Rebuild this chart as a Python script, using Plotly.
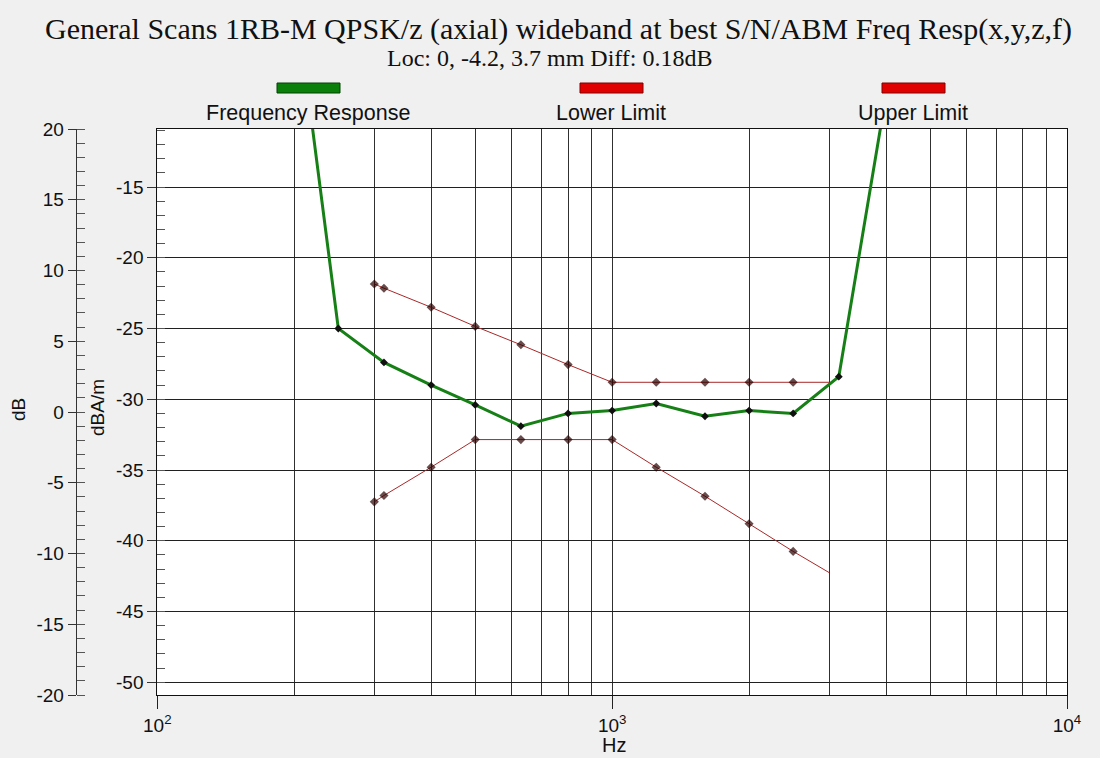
import plotly.graph_objects as go

# ---- data ----
freq_resp_hz = [200, 250, 315, 400, 500, 630, 800, 1000, 1250, 1600, 2000, 2500, 3150, 4000]
freq_resp_db = [-0.8, -25.0, -27.4, -29.0, -30.4, -31.9, -31.0, -30.8, -30.3, -31.2, -30.8, -31.0, -28.4, -8.5]

upper_hz = [300, 315, 400, 500, 630, 800, 1000, 1250, 1600, 2000, 2500, 3000]
upper_db = [-21.85, -22.15, -23.5, -24.85, -26.15, -27.55, -28.8, -28.8, -28.8, -28.8, -28.8, -28.8]

lower_hz = [300, 315, 400, 500, 630, 800, 1000, 1250, 1600, 2000, 2500, 3000]
lower_db = [-37.25, -36.8, -34.8, -32.85, -32.85, -32.85, -32.85, -34.8, -36.85, -38.8, -40.75, -42.25]

x_tick_vals = [100, 1000, 10000]
x_tick_text = ["10<sup>2</sup>", "10<sup>3</sup>", "10<sup>4</sup>"]
y_tick_vals = [-15, -20, -25, -30, -35, -40, -45, -50]
y2_tick_vals = [20, 15, 10, 5, 0, -5, -10, -15, -20]

title_text = "General Scans 1RB-M QPSK/z (axial) wideband at best S/N/ABM Freq Resp(x,y,z,f)"
subtitle_text = "Loc: 0, -4.2, 3.7 mm Diff: 0.18dB"
legend_names = ["Frequency Response", "Lower Limit", "Upper Limit"]

# ---- layout geometry (pixels) ----
W, H = 1100, 758
ML, MR, MT, MB = 10, 33, 129, 63
PW, PH = W - ML - MR, H - MT - MB


def px(x):
    return (x - ML) / PW


def py(y):
    return (H - MB - y) / PH


minor_x = [m * d for d in (100, 1000) for m in range(2, 10)]

SANS = "Arial, Liberation Sans, sans-serif"
SERIF = "Times New Roman, Liberation Serif, serif"
TICK_SIZE = 19

fig = go.Figure()


def limit_marker_sizes(n):
    return [7] * (n - 1) + [0]


for hz, db, name in ((upper_hz, upper_db, legend_names[2]), (lower_hz, lower_db, legend_names[1])):
    fig.add_trace(go.Scatter(
        x=hz, y=db, mode="lines+markers", name=name,
        line=dict(color="#a82828", width=1),
        marker=dict(color="#280000", size=limit_marker_sizes(len(hz)), symbol="diamond",
                    line=dict(width=0)),
    ))
fig.add_trace(go.Scatter(
    x=freq_resp_hz, y=freq_resp_db, mode="lines+markers", name=legend_names[0],
    line=dict(color="#168016", width=3),
    marker=dict(color="#101010", size=6, symbol="diamond", line=dict(width=0)),
))
# invisible trace to activate the dB axis
fig.add_trace(go.Scatter(x=[100], y=[0], yaxis="y2", mode="markers",
                         marker=dict(size=1, opacity=0), showlegend=False, hoverinfo="skip"))

x_dom0 = px(157.3)

fig.update_layout(
    width=W, height=H,
    margin=dict(l=ML, r=MR, t=MT, b=MB, autoexpand=False),
    paper_bgcolor="#f0f0f0",
    plot_bgcolor="#ffffff",
    showlegend=False,
    font=dict(family=SANS, size=18, color="#111111"),
    xaxis=dict(
        type="log", range=[2, 4], domain=[x_dom0, 1],
        tickmode="array", tickvals=x_tick_vals, ticktext=x_tick_text,
        ticks="outside", ticklen=13, tickwidth=1, tickcolor="#222222",
        showgrid=True, gridcolor="#303030", gridwidth=1,
        showline=True, linecolor="#111111", linewidth=1, mirror=True,
        tickfont=dict(family=SANS, size=TICK_SIZE),
        minor=dict(tickmode="array", tickvals=minor_x, showgrid=True,
                   gridcolor="#303030", gridwidth=1, ticks=""),
        zeroline=False,
    ),
    yaxis=dict(
        range=[-50.9, -10.9],
        tickmode="array", tickvals=y_tick_vals, ticktext=[str(v) for v in y_tick_vals],
        ticks="outside", ticklen=9, tickwidth=1, tickcolor="#333333",
        showgrid=True, gridcolor="#202020", gridwidth=1,
        showline=True, linecolor="#111111", linewidth=1, mirror=True,
        tickfont=dict(family=SANS, size=TICK_SIZE),
        minor=dict(tickmode="linear", tick0=0, dtick=1, ticks="inside", ticklen=8,
                   tickcolor="#555555", showgrid=False),
        zeroline=False,
    ),
    yaxis2=dict(
        range=[-20, 20], overlaying="y", anchor="free", position=px(75.7), side="left",
        tickmode="array", tickvals=y2_tick_vals, ticktext=[str(v) for v in y2_tick_vals],
        ticks="outside", ticklen=8, tickwidth=1, tickcolor="#333333",
        showgrid=False, showline=True, linecolor="#333333", linewidth=1,
        tickfont=dict(family=SANS, size=TICK_SIZE),
        minor=dict(tickmode="linear", tick0=0, dtick=1, ticks="inside", ticklen=8,
                   tickcolor="#555555", showgrid=False),
        zeroline=False,
    ),
)

ann = []
ann.append(dict(text=title_text, x=px(558), y=py(29), xref="paper", yref="paper",
                showarrow=False, xanchor="center", yanchor="middle",
                font=dict(family=SERIF, size=30, color="#111111")))
ann.append(dict(text=subtitle_text, x=px(550), y=py(58), xref="paper", yref="paper",
                showarrow=False, xanchor="center", yanchor="middle",
                font=dict(family=SERIF, size=24, color="#111111")))
ann.append(dict(text="dB", x=px(18), y=py(410), xref="paper", yref="paper", textangle=-90,
                showarrow=False, xanchor="center", yanchor="middle",
                font=dict(family=SANS, size=19)))
ann.append(dict(text="dBA/m", x=px(97), y=py(408), xref="paper", yref="paper", textangle=-90,
                showarrow=False, xanchor="center", yanchor="middle",
                font=dict(family=SANS, size=19)))
ann.append(dict(text="Hz", x=px(614), y=py(745), xref="paper", yref="paper",
                showarrow=False, xanchor="center", yanchor="middle",
                font=dict(family=SANS, size=20)))

legend_items = [
    (legend_names[0], 277, 340, "#0a800a", "#034003"),
    (legend_names[1], 580, 643, "#e00000", "#800000"),
    (legend_names[2], 882, 945, "#e00000", "#800000"),
]
shapes = []
for name, x0, x1, fill, edge in legend_items:
    shapes.append(dict(type="rect", xref="paper", yref="paper",
                       x0=px(x0), x1=px(x1), y0=py(93), y1=py(83),
                       fillcolor=fill, line=dict(color=edge, width=1)))
    ann.append(dict(text=name, x=px((x0 + x1) / 2 - 1), y=py(113), xref="paper", yref="paper",
                    showarrow=False, xanchor="center", yanchor="middle",
                    font=dict(family=SANS, size=21.5, color="#111111")))

fig.update_layout(annotations=ann, shapes=shapes)

fig.write_html("out.html", config={"displayModeBar": False},
               post_script="document.body.style.margin='0';document.body.style.overflow='hidden';")
